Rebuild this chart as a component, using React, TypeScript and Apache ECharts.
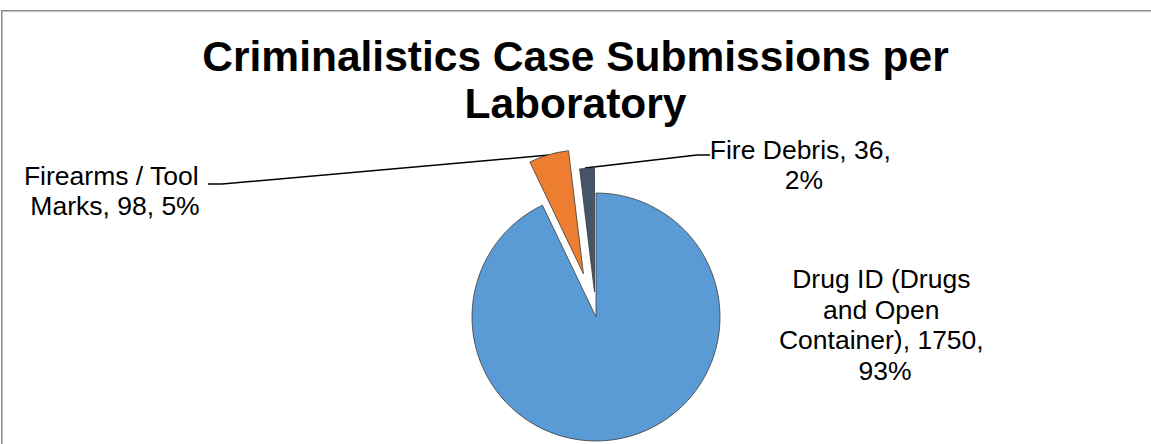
import React, { useEffect, useRef } from 'react';
import * as echarts from 'echarts';

// ---- data ----
const categories = ['Drug ID (Drugs and Open Container)', 'Firearms / Tool Marks', 'Fire Debris'];
const values = [1750, 98, 36];
const titleText = 'Criminalistics Case Submissions per\nLaboratory';

// ---- styling / layout ----
const colors = ['#5B9BD5', '#ED7D31', '#44546A'];
const explode = [0, 45, 25];
const FONT = "'Liberation Sans', Arial, Helvetica, sans-serif";
const CENTER: [number, number] = [596, 317];
const RADIUS = 124;
const labelSpots: { x: number; y: number; width: number; line: number[][] | null }[] = [
  { x: 885, y: 325, width: 228, line: null },
  { x: 115, y: 191, width: 190, line: [[549, 155], [222, 184], [208, 184]] },
  { x: 804, y: 165, width: 190, line: [[585, 168], [697, 155], [710, 155]] },
];

// centre of each exploded slice, shifted along its mid angle (angles measured clockwise from 12 o'clock)
function slicedCenters(): [number, number][] {
  const total = values.reduce((a, b) => a + b, 0);
  let acc = 0;
  return values.map((v, i) => {
    const mid = ((acc + v / 2) / total) * Math.PI * 2;
    acc += v;
    return [CENTER[0] + Math.sin(mid) * explode[i], CENTER[1] - Math.cos(mid) * explode[i]];
  });
}

export default function App() {
  const ref = useRef<HTMLDivElement>(null);
  useEffect(() => {
    if (!ref.current) return;
    const chart = echarts.init(ref.current, undefined, { renderer: 'svg' });
    const centers = slicedCenters();
    const series = categories.map((_, owner) => ({
      type: 'pie',
      center: centers[owner],
      radius: RADIUS,
      startAngle: 90,
      clockwise: true,
      silent: true,
      percentPrecision: 0,
      avoidLabelOverlap: false,
      z: 2 + owner,
      emphasis: { disabled: true },
      data: categories.map((name, i) => {
        const mine = i === owner;
        return {
          name,
          value: values[i],
          itemStyle: mine
            ? { color: colors[i], borderColor: '#3a3a3a', borderWidth: 0.8 }
            : { color: 'rgba(0,0,0,0)', borderWidth: 0 },
          label: { show: mine, width: labelSpots[i].width },
          labelLine: { show: mine && !!labelSpots[i].line },
        };
      }),
      label: {
        position: 'outside',
        formatter: '{b}, {c}, {d}%',
        fontFamily: FONT,
        fontSize: 26.5,
        color: '#000',
        lineHeight: 30.5,
        overflow: 'break',
        align: 'center',
      },
      labelLine: { lineStyle: { color: '#000', width: 1.5 } },
      labelLayout: (p: any) => {
        const s = labelSpots[p.dataIndex];
        return {
          x: s.x,
          y: s.y,
          align: 'center',
          verticalAlign: 'middle',
          labelLinePoints: s.line || undefined,
        };
      },
    }));

    chart.setOption({
      animation: false,
      backgroundColor: '#fff',
      title: {
        text: titleText,
        left: 'center',
        top: 33,
        padding: 0,
        textStyle: {
          fontFamily: FONT,
          fontSize: 42.5,
          fontWeight: 'bold',
          color: '#000',
          lineHeight: 47,
        },
      },
      graphic: [
        {
          type: 'rect',
          silent: true,
          shape: { x: 1.75, y: 10.75, width: 1300, height: 600 },
          style: { fill: 'none', stroke: '#8c8c8c', lineWidth: 1.5 },
        },
      ],
      series,
    } as any);
    return () => chart.dispose();
  }, []);
  return (
    <div
      ref={ref}
      style={{ position: 'fixed', left: 0, top: 0, width: 1151, height: 444 }}
    />
  );
}
